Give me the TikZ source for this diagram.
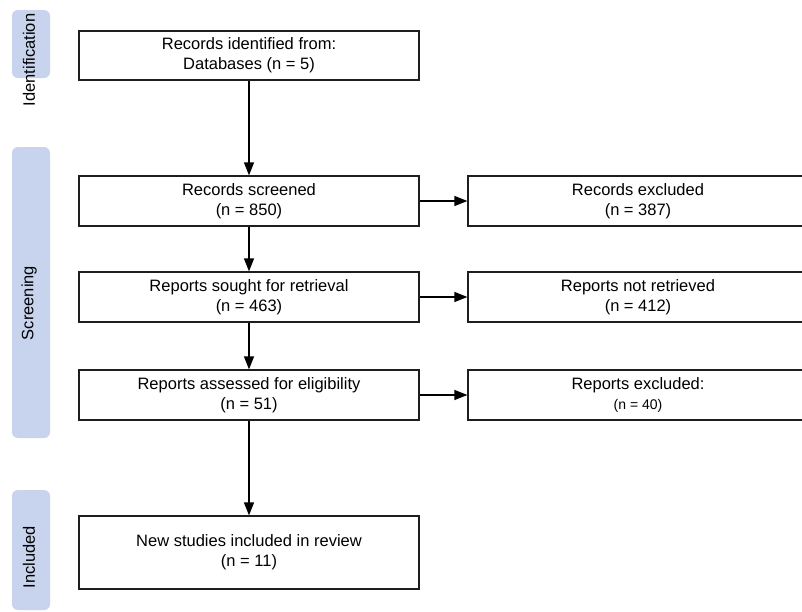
\documentclass[tikz,border=0pt]{standalone}
\usepackage{fontspec}
\setmainfont{Liberation Sans}
\usetikzlibrary{arrows.meta}
\definecolor{barblue}{RGB}{200,212,238}
\definecolor{boxline}{RGB}{30,30,30}
\tikzset{
  flowbox/.style={draw=boxline, line width=1.2pt, rectangle, minimum width=340pt, align=center, inner sep=0pt, font=\fontsize{16.5}{20}\selectfont},
  phasebar/.style={fill=barblue, rounded corners=6pt, draw=none},
  phaselabel/.style={rotate=90, font=\fontsize{16.5}{20}\selectfont, inner sep=0pt},
  flowarrow/.style={draw=black, line width=1.2pt, -{Triangle[length=13pt,width=10pt]}},
}
\begin{document}
\begin{tikzpicture}[x=1pt,y=-1pt]
\clip (0,0) rectangle (802,611);
\fill[white] (0,0) rectangle (802,611);
% phase bars
\fill[phasebar] (12,10) rectangle (50,78);
\fill[phasebar] (12,147) rectangle (50,438);
\fill[phasebar] (12,490) rectangle (50,610);
\node[phaselabel] (lid) at (29,60) {Identification};
\node[phaselabel] (lsc) at (29,303) {Screening};
\node[phaselabel] (lin) at (29,557) {Included};
% boxes
\node[flowbox, minimum height=49pt] (id) at (249,55.5) {Records identified from:\\Databases (n = 5)};
\node[flowbox, minimum height=50pt] (scr) at (249,201) {Records screened\\(n = 850)};
\node[flowbox, minimum height=50pt] (exc) at (638,201) {Records excluded\\(n = 387)};
\node[flowbox, minimum height=50pt] (sought) at (249,297) {Reports sought for retrieval\\(n = 463)};
\node[flowbox, minimum height=50pt] (notret) at (638,297) {Reports not retrieved\\(n = 412)};
\node[flowbox, minimum height=50pt] (elig) at (249,395) {Reports assessed for eligibility\\(n = 51)};
\node[flowbox, minimum height=50pt] (rexc) at (638,395) {Reports excluded:\\{\fontsize{14}{20}\selectfont (n = 40)}};
\node[flowbox, minimum height=73pt] (incl) at (249,552.5) {New studies included in review\\(n = 11)};
% connectors
\draw[flowarrow] (id) -- (scr);
\draw[flowarrow] (scr) -- (sought);
\draw[flowarrow] (sought) -- (elig);
\draw[flowarrow] (elig) -- (incl);
\draw[flowarrow] (scr) -- (exc);
\draw[flowarrow] (sought) -- (notret);
\draw[flowarrow] (elig) -- (rexc);
\end{tikzpicture}
\end{document}
